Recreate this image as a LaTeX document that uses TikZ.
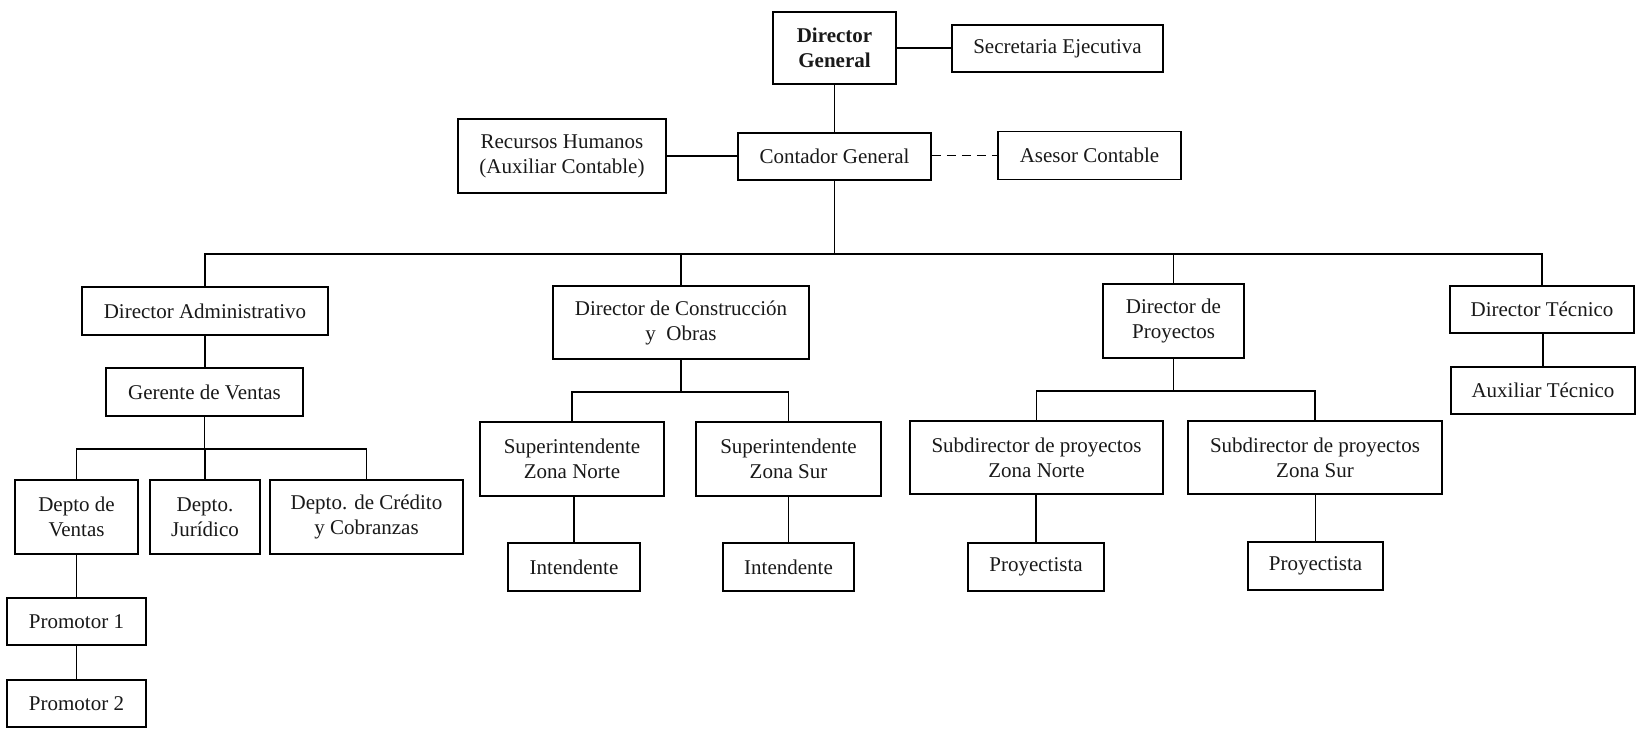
\documentclass[tikz,border=0pt]{standalone}
\usepackage{fontspec}
\setmainfont{Liberation Serif}
\begin{document}
\begin{tikzpicture}[x=1pt,y=-1pt,
  box/.style={draw=black, line width=1.9pt, align=center, inner sep=0pt,
    font=\fontsize{21}{25}\selectfont, text=black!90},
  link/.style={draw=black, line width=1.9pt}]
\useasboundingbox[fill=white] (0,0) rectangle (1636,729);
% top
\node[box, minimum width=123, minimum height=72, font=\fontsize{21}{25}\selectfont\bfseries] (DG) at (834.5,48) {Director\\General};
\node[box, minimum width=211, minimum height=47] (Sec) at (1057.5,48.5) {Secretaria Ejecutiva};
\node[box, minimum width=193, minimum height=47] (Cont) at (834.5,156.5) {Contador General};
\node[box, minimum width=208, minimum height=74] (RH) at (562,156) {Recursos Humanos\\(Auxiliar Contable)};
\node[box, minimum width=183, minimum height=48] (Ase) at (1089.5,155.5) {Asesor Contable};
% directors
\node[box, minimum width=246, minimum height=48] (DA) at (205,311) {Director Administrativo};
\node[box, minimum width=256, minimum height=73] (DCO) at (681,322.5) {Director de Construcción\\y~ Obras};
\node[box, minimum width=141, minimum height=74] (DP) at (1173.5,321) {Director de\\Proyectos};
\node[box, minimum width=184, minimum height=47] (DT) at (1542,309.5) {Director Técnico};
% admin branch
\node[box, minimum width=197, minimum height=48] (GV) at (204.5,392) {Gerente de Ventas};
\node[box, minimum width=123, minimum height=74] (DV) at (76.5,517) {Depto de\\Ventas};
\node[box, minimum width=110, minimum height=74] (DJ) at (205,517) {Depto.\\Jurídico};
\node[box, minimum width=193, minimum height=74] (DC) at (366.5,517) {Depto. de Crédito\\y Cobranzas};
\node[box, minimum width=139, minimum height=47] (P1) at (76.5,621.5) {Promotor 1};
\node[box, minimum width=139, minimum height=47] (P2) at (76.5,703.5) {Promotor 2};
% construction branch
\node[box, minimum width=184, minimum height=74] (SN) at (572,459) {Superintendente\\Zona Norte};
\node[box, minimum width=185, minimum height=74] (SS) at (788.5,459) {Superintendente\\Zona Sur};
\node[box, minimum width=132, minimum height=48] (I1) at (574,567) {Intendente};
\node[box, minimum width=131, minimum height=48] (I2) at (788.5,567) {Intendente};
% projects branch
\node[box, minimum width=253, minimum height=73] (SDN) at (1036.5,457.5) {Subdirector de proyectos\\Zona Norte};
\node[box, minimum width=254, minimum height=73] (SDS) at (1315,457.5) {Subdirector de proyectos\\Zona Sur};
\node[box, minimum width=136, minimum height=48] (PR1) at (1036,567) {Proyectista};
\node[box, minimum width=135, minimum height=48] (PR2) at (1315.5,566) {Proyectista};
% technical
\node[box, minimum width=184, minimum height=47] (AT) at (1543,390.5) {Auxiliar Técnico};
% bus coordinates
\coordinate (bus) at (0,254);
\coordinate (gvbus) at (0,449);
\coordinate (dcobus) at (0,392);
\coordinate (dpbus) at (0,391);
% connectors
\draw[link] (DG.east) -- (Sec.west |- DG.east);
\draw[link] (DG.south) -- (DG.south |- Cont.north);
\draw[link] (RH.east) -- (Cont.west |- RH.east);
\draw[link, dash pattern=on 9pt off 6pt] (Cont.east |- Ase.west) -- (Ase.west);
\draw[link] (Cont.south) -- (Cont.south |- bus);
\draw[link] (DA.north) -- (DA.north |- bus) -- (DT.north |- bus) -- (DT.north);
\draw[link] (DCO.north) -- (DCO.north |- bus);
\draw[link] (DP.north) -- (DP.north |- bus);
\draw[link] (DA.south) -- (GV.north -| DA.south);
\draw[link] (GV.south) -- (GV.south |- gvbus);
\draw[link] (DV.north) -- (DV.north |- gvbus) -- (DC.north |- gvbus) -- (DC.north);
\draw[link] (DJ.north) -- (DJ.north |- gvbus);
\draw[link] (DV.south) -- (P1.north);
\draw[link] (P1.south) -- (P2.north);
\draw[link] (DCO.south) -- (DCO.south |- dcobus);
\draw[link] (SN.north) -- (SN.north |- dcobus) -- (SS.north |- dcobus) -- (SS.north);
\draw[link] (I1.north) -- (I1.north |- SN.south);
\draw[link] (I2.north) -- (I2.north |- SS.south);
\draw[link] (DP.south) -- (DP.south |- dpbus);
\draw[link] (SDN.north) -- (SDN.north |- dpbus) -- (SDS.north |- dpbus) -- (SDS.north);
\draw[link] (PR1.north) -- (PR1.north |- SDN.south);
\draw[link] (PR2.north) -- (PR2.north |- SDS.south);
\draw[link] (AT.north) -- (AT.north |- DT.south);
\end{tikzpicture}
\end{document}
